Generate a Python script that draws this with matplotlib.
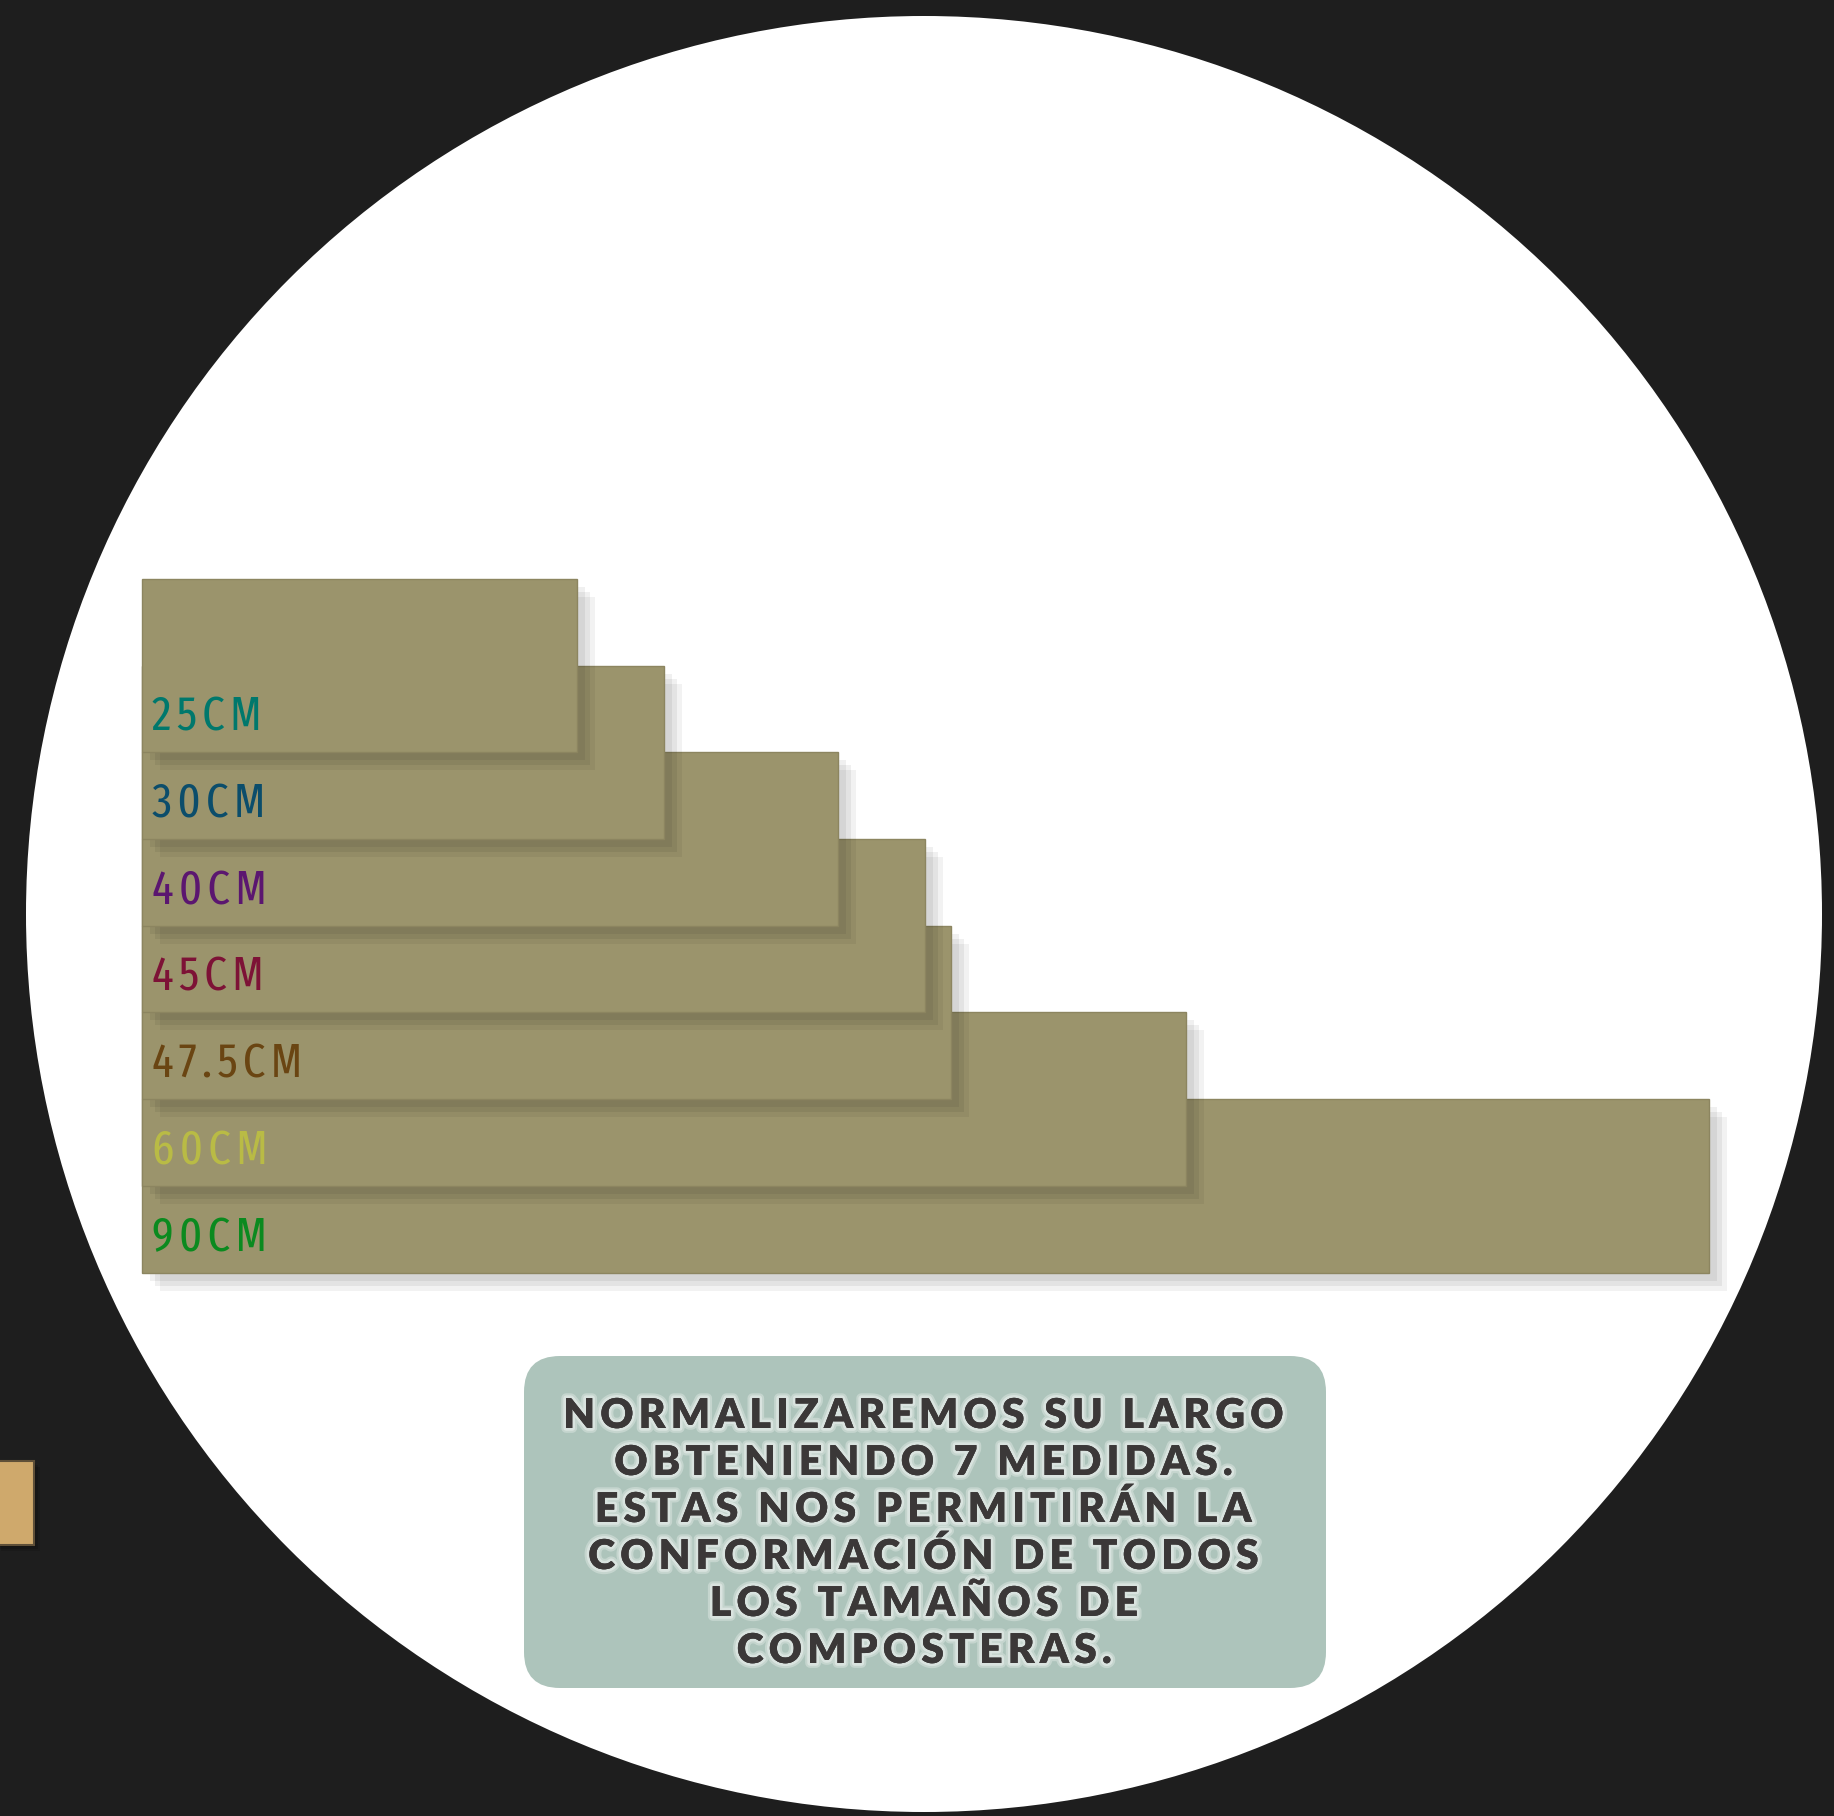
import matplotlib
matplotlib.use("Agg")
import matplotlib.pyplot as plt
import matplotlib.patheffects as pe
from matplotlib.patches import Circle, FancyBboxPatch, Rectangle
from matplotlib.transforms import ScaledTranslation

# bar data (lengths in cm as drawn), top bar first
labels = ["25CM", "30CM", "40CM", "45CM", "47.5CM", "60CM", "90CM"]
lengths = [25, 30, 40, 45, 46.5, 60, 90]
label_colors = ["#00786c", "#0b4d6b", "#5b1670", "#7d1236",
                "#6a4512", "#b9bb45", "#0b8a1f"]

note_lines = ["NORMALIZAREMOS SU LARGO",
              "OBTENIENDO 7 MEDIDAS.",
              "ESTAS NOS PERMITIRÁN LA",
              "CONFORMACIÓN DE TODOS",
              "LOS TAMAÑOS DE",
              "COMPOSTERAS."]

W, H = 1834, 1816
fig = plt.figure(figsize=(W / 100, H / 100), dpi=100)
fig.patch.set_facecolor("#1e1e1e")

# background layer in pixel units
bg = fig.add_axes([0, 0, 1, 1])
bg.set_xlim(0, W)
bg.set_ylim(H, 0)
bg.axis("off")
bg.add_patch(Circle((924, 914), 898, facecolor="white", edgecolor="none"))

# small tab on the left edge
for k in range(4):
    bg.add_patch(Rectangle((-5 + 2 * k, 1461 + 2 * k), 39, 84,
                           facecolor="black", alpha=0.12, edgecolor="none"))
bg.add_patch(Rectangle((-5, 1461), 39, 84, facecolor="#cfa96c",
                       edgecolor="#5e4f38", lw=1.5))

# note box
pad = 36
bg.add_patch(FancyBboxPatch((524 + pad, 1356 + pad), 802 - 2 * pad, 332 - 2 * pad,
                            boxstyle="round,pad=%d" % pad,
                            facecolor="#adc4bb", edgecolor="none"))

def spaced(s, sep="\u200a\u200a"):
    return sep.join(s)

for i, line in enumerate(note_lines):
    bg.text(925, 1428 + i * 47, spaced(line), ha="center", va="baseline",
            fontsize=29.5, fontweight="heavy", family=["Lato", "DejaVu Sans"],
            color="#3b3838",
            path_effects=[pe.withStroke(linewidth=7, foreground="#f2f6f4", alpha=0.35),
                          pe.withStroke(linewidth=4, foreground="#f2f6f4", alpha=0.45),
                          pe.Normal()])

# bars
ax = fig.add_axes([141.5 / W, 543.5 / H, 1567.3 / W, 693.5 / H])
ax.set_xlim(0, 90)
ax.set_ylim(8, 0)
ax.axis("off")

n = len(lengths)
for i in range(n - 1, -1, -1):
    z = 2 + (n - i) * 3
    for k, a in enumerate([0.06, 0.06, 0.05]):
        d = 8 + 5 * k
        sh = ax.transData + ScaledTranslation(d / 100, -d / 100, fig.dpi_scale_trans)
        ax.barh(i, lengths[i], height=2, left=0, align="edge",
                color="black", alpha=a, transform=sh, zorder=z, clip_on=False)
    ax.barh(i, lengths[i], height=2, left=0, align="edge",
            color="#9b946c", edgecolor="#8c8560", lw=1, zorder=z + 1, clip_on=False)
    ax.text(0.6, i + 1.75, spaced(labels[i], "\u200a"), ha="left", va="baseline",
            fontsize=35, fontweight="normal",
            family=["Fira Sans Extra Condensed", "Roboto Condensed", "DejaVu Sans"],
            color=label_colors[i], zorder=z + 2)

fig.savefig("out.png", dpi=100, facecolor=fig.get_facecolor())
